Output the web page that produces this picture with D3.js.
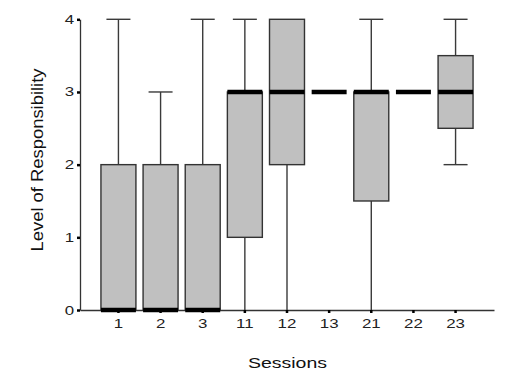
<!DOCTYPE html>
<html><head><meta charset="utf-8">
<script src="https://d3js.org/d3.v7.min.js"></script>
<style>body{margin:0;background:#fff}svg{display:block}</style>
</head><body>
<script>
const sessions = ["1","2","3","11","12","13","21","22","23"];
const mins    = [0,0,0,0,0,3,0,3,2];
const q1s     = [0,0,0,1,2,3,1.5,3,2.5];
const medians = [0,0,0,3,3,3,3,3,3];
const q3s     = [2,2,2,3,4,3,3,3,3.5];
const maxs    = [4,3,4,4,4,3,4,3,4];
const yTicks  = [0,1,2,3,4];

const W=518,H=383;
const FONT="'Liberation Sans',Arial,sans-serif";
const svg=d3.select("body").append("svg").attr("width",W).attr("height",H);
const x=d3.scaleBand().domain(sessions).range([80,494]).paddingInner(0.17).paddingOuter(0.497);
const y=d3.scaleLinear().domain([0,4]).range([310,19.3]);
const bw=x.bandwidth();
const capW=24;
const stretch=1.35;

const data=sessions.map((s,i)=>({s,min:mins[i],q1:q1s[i],med:medians[i],q3:q3s[i],max:maxs[i]}));
const g=svg.append("g");
const cx=d=>x(d.s)+bw/2;
const hasBox=d=>!(d.min===d.max);

// whiskers
const wd=data.filter(hasBox);
g.selectAll(".wl").data(wd.filter(d=>d.max>d.q3)).join("line")
 .attr("x1",cx).attr("x2",cx).attr("y1",d=>y(d.max)).attr("y2",d=>y(d.q3))
 .attr("stroke","#3a3a3a").attr("stroke-width",1.4);
g.selectAll(".wc").data(wd.filter(d=>d.max>d.q3)).join("line")
 .attr("x1",d=>cx(d)-capW/2).attr("x2",d=>cx(d)+capW/2).attr("y1",d=>y(d.max)).attr("y2",d=>y(d.max))
 .attr("stroke","#3a3a3a").attr("stroke-width",1.4);
g.selectAll(".wl2").data(wd.filter(d=>d.min<d.q1)).join("line")
 .attr("x1",cx).attr("x2",cx).attr("y1",d=>y(d.q1)).attr("y2",d=>y(d.min))
 .attr("stroke","#3a3a3a").attr("stroke-width",1.4);
g.selectAll(".wc2").data(wd.filter(d=>d.min<d.q1 && d.min>0)).join("line")
 .attr("x1",d=>cx(d)-capW/2).attr("x2",d=>cx(d)+capW/2).attr("y1",d=>y(d.min)).attr("y2",d=>y(d.min))
 .attr("stroke","#3a3a3a").attr("stroke-width",1.4);

// boxes
g.selectAll(".box").data(wd).join("rect")
 .attr("x",d=>x(d.s)).attr("width",bw)
 .attr("y",d=>y(d.q3)).attr("height",d=>y(d.q1)-y(d.q3))
 .attr("fill","#c0c0c0").attr("stroke","#333").attr("stroke-width",1.4);

// axes
const xAxis=d3.axisBottom(x).tickSize(3).tickSizeOuter(0).tickPadding(6);
const xg=svg.append("g").attr("transform","translate(0,310)").call(xAxis);
xg.select(".domain").attr("stroke","#333").attr("stroke-width",1.3);
xg.selectAll(".tick line").attr("stroke","#000").attr("stroke-width",2.5);
xg.selectAll(".tick text").attr("font-family",FONT).attr("font-size",12.5)
 .attr("fill","#222").attr("transform",`scale(${stretch},1)`);

const yAxis=d3.axisLeft(y).tickValues(yTicks).tickSize(3).tickSizeOuter(0).tickPadding(3).tickFormat(d3.format("d"));
const yg=svg.append("g").attr("transform","translate(80,0)").call(yAxis);
yg.select(".domain").attr("stroke","#333").attr("stroke-width",1.3);
yg.selectAll(".tick line").attr("stroke","#000").attr("stroke-width",2.5);
yg.selectAll(".tick text").attr("font-family",FONT).attr("font-size",12.5)
 .attr("fill","#222").attr("x",-6/stretch).attr("transform",`scale(${stretch},1)`);

// medians (on top)
svg.selectAll(".med").data(data).join("line")
 .attr("x1",d=>x(d.s)).attr("x2",d=>x(d.s)+bw).attr("y1",d=>y(d.med)).attr("y2",d=>y(d.med))
 .attr("stroke","#000").attr("stroke-width",4.5);

// titles
svg.append("text").attr("transform","translate(287.5,368) scale(1.3,1)").attr("text-anchor","middle")
 .attr("font-family",FONT).attr("font-size",15).attr("fill","#111").text("Sessions");
svg.append("text").attr("transform","translate(43,160) rotate(-90) scale(1.15,1)").attr("text-anchor","middle")
 .attr("font-family",FONT).attr("font-size",16).attr("fill","#111").text("Level of Responsibility");
</script>
</body></html>
